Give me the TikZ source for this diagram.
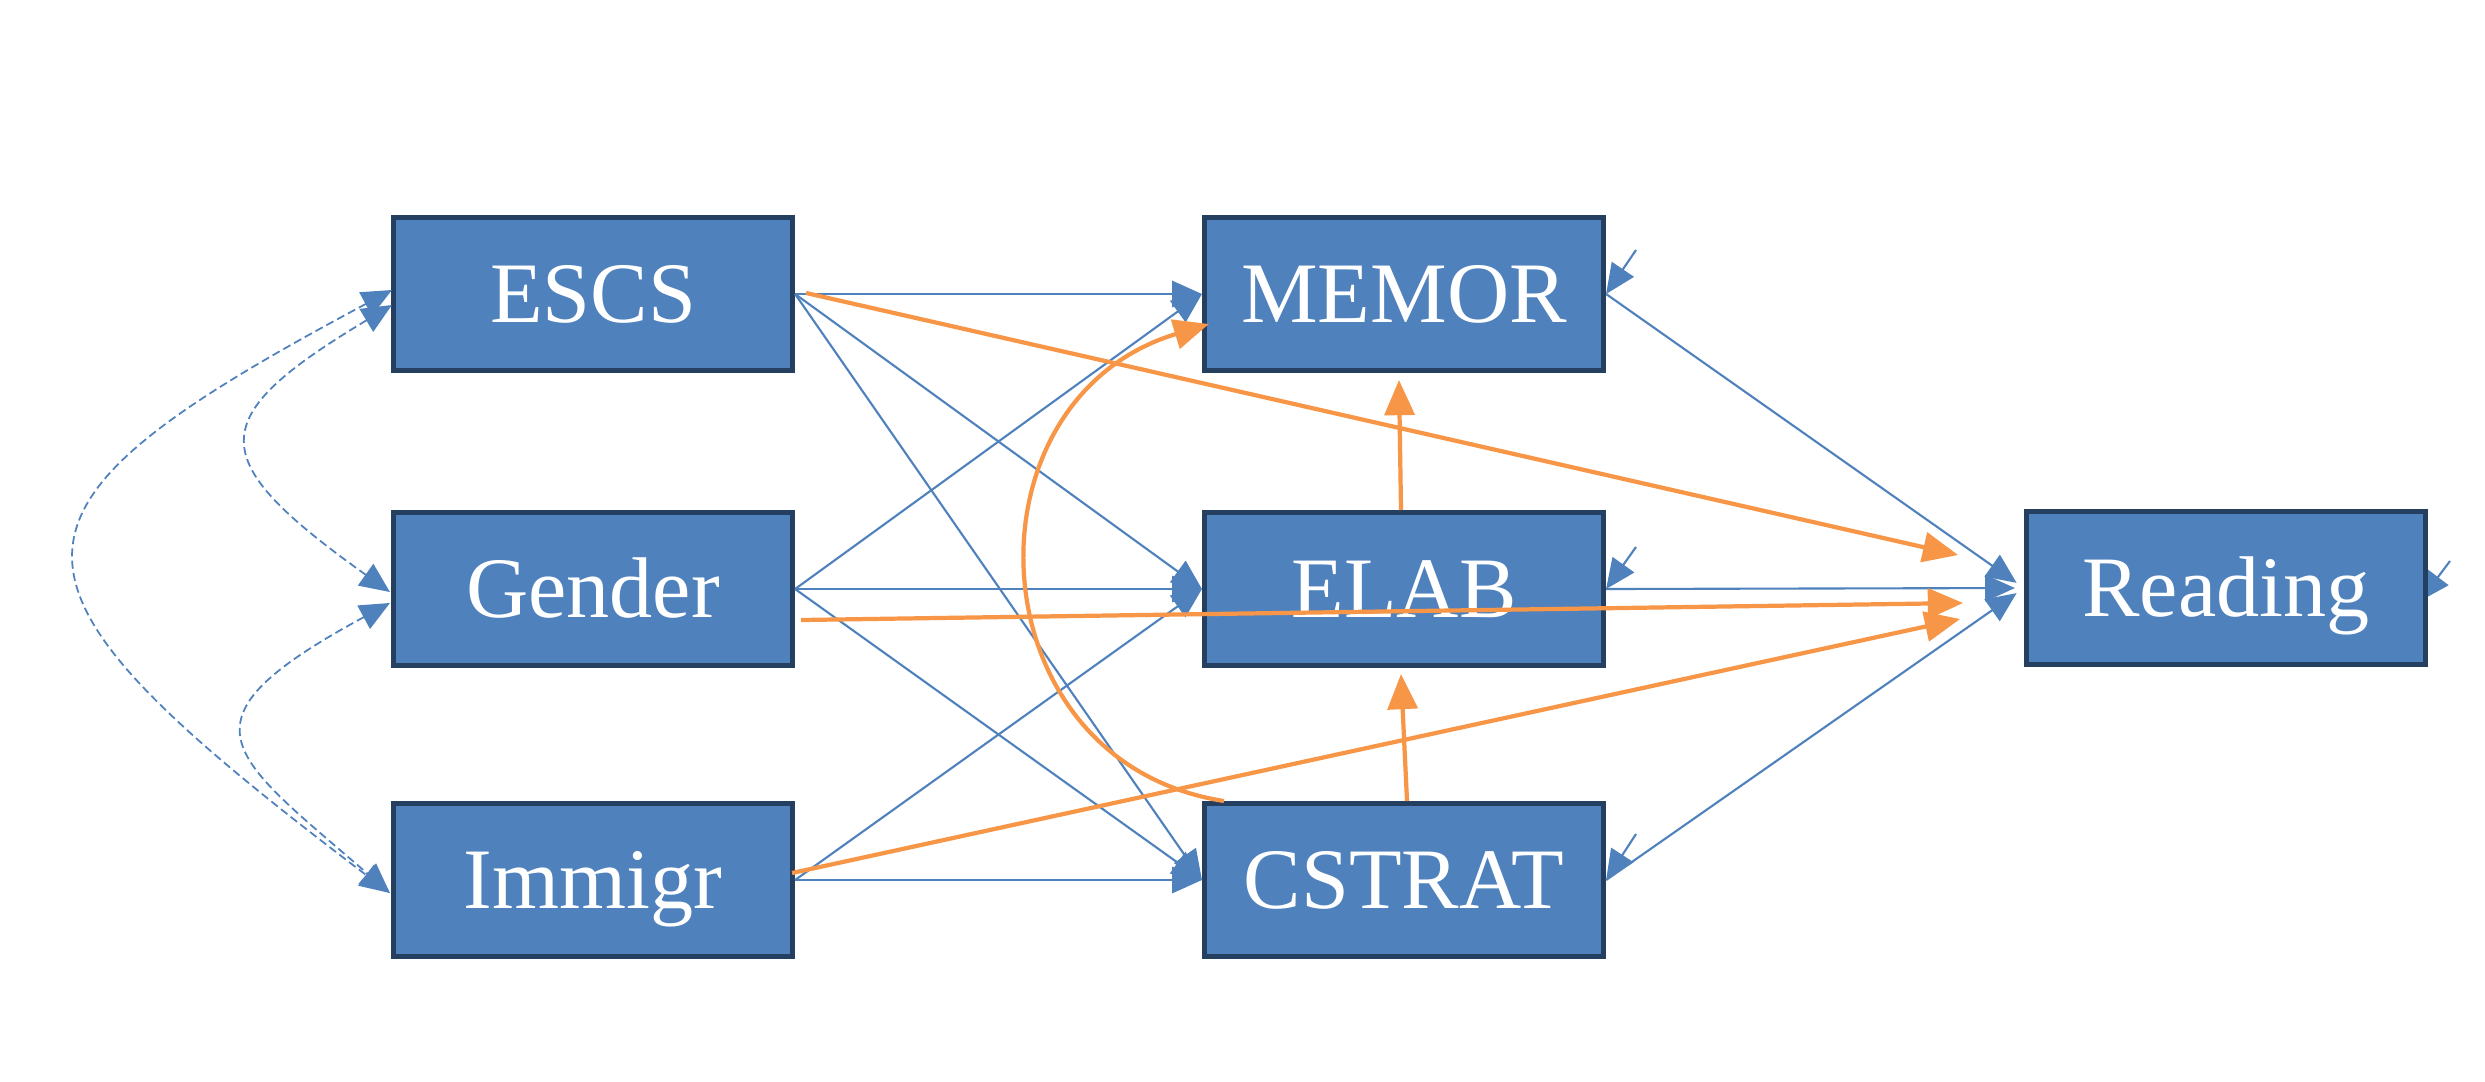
\documentclass[tikz,border=0pt]{standalone}
\usepackage{fontspec}
\newfontfamily\boxfont{Liberation Serif}
\usetikzlibrary{arrows.meta,calc,backgrounds}
\definecolor{boxfill}{HTML}{4F81BD}
\definecolor{boxline}{HTML}{243F60}
\definecolor{lineblue}{HTML}{4F81BD}
\definecolor{lineorange}{HTML}{F79646}
\begin{document}
\begin{tikzpicture}[x=0.01cm,y=-0.01cm,
  var/.style={draw=boxline, line width=1.4pt, fill=boxfill,
    minimum width=3.99cm, minimum height=1.53cm, inner sep=0pt,
    text=white, font=\boxfont\fontsize{24.5}{28}\selectfont,
    text height=0.57cm, text depth=0pt},
  bluearrow/.style={draw=lineblue, line width=0.6pt,
    -{Triangle[length=8.5pt,width=7.5pt]}},
  orangearrow/.style={draw=lineorange, line width=1.2pt,
    -{Triangle[length=10pt,width=8.5pt]}},
  corr/.style={draw=lineblue, line width=0.5pt, dash pattern=on 2.3pt off 1.2pt,
    {Triangle[length=8.5pt,width=7.5pt]}-{Triangle[length=8.5pt,width=7.5pt]}}]
\path[use as bounding box] (0,0) rectangle (2485,1081);

% nodes
\node[var] (ESCS) at (593,294) {ESCS};
\node[var] (Gender) at (593,589) {Gender};
\node[var] (Immigr) at (593,880) {Immigr};
\node[var] (MEMOR) at (1404,294) {MEMOR};
\node[var] (ELAB) at (1404,589) {ELAB};
\node[var] (CSTRAT) at (1404,880) {CSTRAT};
\node[var] (Reading) at (2226,588) {Reading};

% free ends
\coordinate (eM) at (1636,250);
\coordinate (eE) at (1636,547);
\coordinate (eC) at (1636,834);
\coordinate (eR) at (2450,561);
\coordinate (eRt) at (2420,601);
\coordinate (oE) at (1958,555);
\coordinate (oG) at (1963,603);
\coordinate (oI) at (1960,619);

\begin{scope}[on background layer]
  \fill[white] (0,0) rectangle (2485,1081);
  \draw[bluearrow] (eR) -- (eRt);
\end{scope}

% exogenous -> mediators
\foreach \s in {ESCS,Gender}{
  \foreach \t in {MEMOR,ELAB,CSTRAT}{
    \draw[bluearrow] (\s.east) -- (\t.west);
  }
}
\draw[bluearrow] (Immigr.east) -- (ELAB.west);
\draw[bluearrow] (Immigr.east) -- (CSTRAT.west);
% mediators -> Reading
\foreach \s in {MEMOR,ELAB,CSTRAT}{
  \draw[bluearrow, shorten >=0.09cm] (\s.east) -- (Reading.west);
}
% residual arrows
\draw[bluearrow] (eM) -- (MEMOR.east);
\draw[bluearrow] (eE) -- (ELAB.east);
\draw[bluearrow] (eC) -- (CSTRAT.east);

% correlations
\draw[corr] ($(ESCS.west)+(1,-4)$) .. controls (-26,513) and (-26,578) .. ($(Immigr.west)+(-1,13)$);
\draw[corr] ($(ESCS.west)+(1,11)$) .. controls (204,418) and (202,458) .. ($(Gender.west)+(-1,3)$);
\draw[corr] ($(Gender.west)+(-1,14)$) .. controls (170,722) and (228,753) .. ($(Immigr.west)+(-1,13)$);

% orange paths
\draw[orangearrow] ($(ESCS.east)+(11,-1)$) -- (oE);
\draw[orangearrow] ($(Gender.east)+(6,31)$) -- (oG);
\draw[orangearrow] ($(Immigr.east)+(-3,-7)$) -- (oI);
\draw[orangearrow] ($(ELAB.north)+(-3,0)$) -- ($(MEMOR.south)+(-5,7)$);
\draw[orangearrow] ($(CSTRAT.north)+(3,0)$) -- ($(ELAB.south)+(-3,6)$);
\draw[orangearrow] ($(CSTRAT.north west)+(22,0)$) .. controls (973,762) and (958,400) .. ($(MEMOR.west)+(7,30)$);
\end{tikzpicture}
\end{document}
